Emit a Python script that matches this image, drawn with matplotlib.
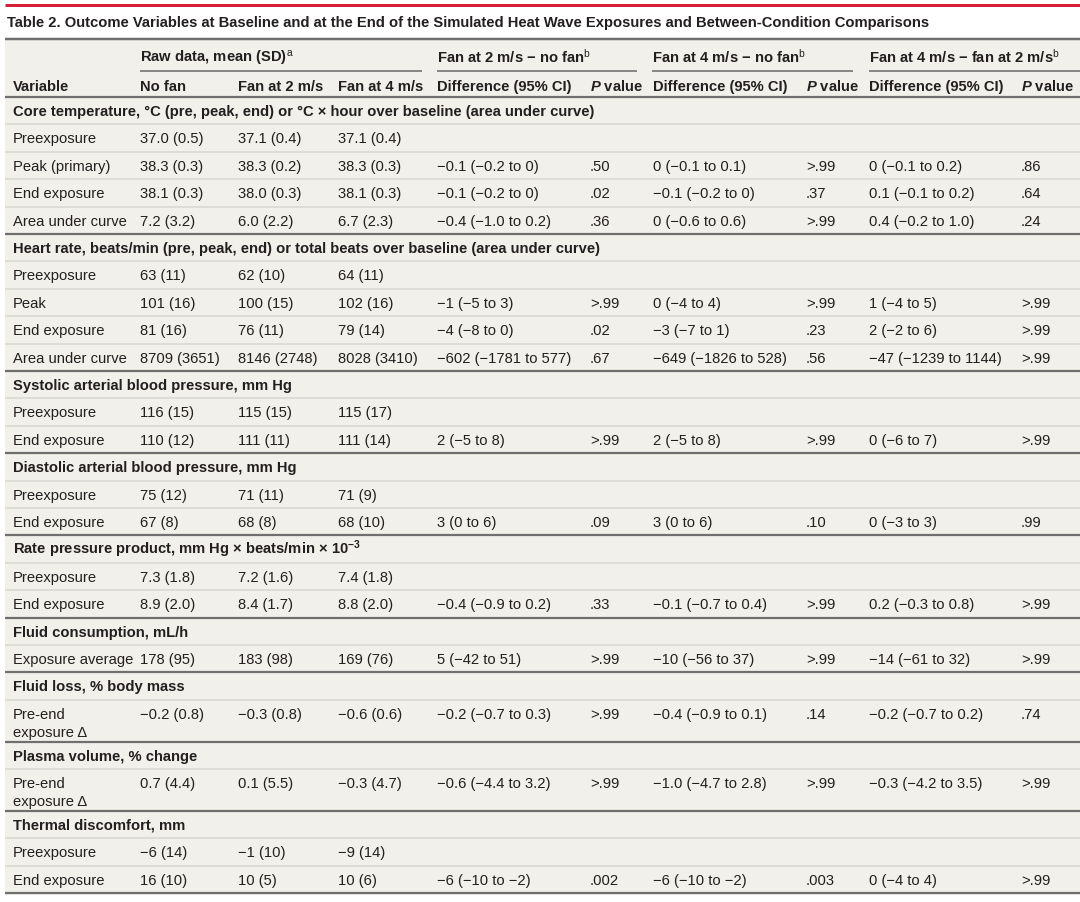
import matplotlib
matplotlib.use('Agg')
import matplotlib.pyplot as plt
from matplotlib.patches import Rectangle

plt.rcParams['font.family'] = ['Liberation Sans', 'DejaVu Sans']
plt.rcParams['mathtext.fontset'] = 'custom'
plt.rcParams['mathtext.rm'] = 'Liberation Sans'
plt.rcParams['mathtext.it'] = 'Liberation Sans:italic:bold'
plt.rcParams['mathtext.bf'] = 'Liberation Sans:bold'

# Данные таблицы
title = ('Table 2. Outcome Variables at Baseline and at the End of the Simulated '
         'Heat Wave Exposures and Between-Condition Comparisons')

group_headers = ['Raw data, mean (SD)$^{\\mathrm{a}}$',
                 'Fan at 2 m/s − no fan$^{\\mathrm{b}}$',
                 'Fan at 4 m/s − no fan$^{\\mathrm{b}}$',
                 'Fan at 4 m/s − fan at 2 m/s$^{\\mathrm{b}}$']
column_headers = ['Variable', 'No fan', 'Fan at 2 m/s', 'Fan at 4 m/s',
                  'Difference (95% CI)', '$\\mathit{P}$ value',
                  'Difference (95% CI)', '$\\mathit{P}$ value',
                  'Difference (95% CI)', '$\\mathit{P}$ value']

section_titles = [
    'Core temperature, °C (pre, peak, end) or °C × hour over baseline (area under curve)',
    'Heart rate, beats/min (pre, peak, end) or total beats over baseline (area under curve)',
    'Systolic arterial blood pressure, mm Hg',
    'Diastolic arterial blood pressure, mm Hg',
    'Rate pressure product, mm Hg × beats/min × 10$^{\\mathregular{-3}}$',
    'Fluid consumption, mL/h',
    'Fluid loss, % body mass',
    'Plasma volume, % change',
    'Thermal discomfort, mm',
]
section_sizes = [4, 4, 2, 2, 2, 1, 1, 1, 2]

row_labels = [
    'Preexposure', 'Peak (primary)', 'End exposure', 'Area under curve',
    'Preexposure', 'Peak', 'End exposure', 'Area under curve',
    'Preexposure', 'End exposure',
    'Preexposure', 'End exposure',
    'Preexposure', 'End exposure',
    'Exposure average',
    'Pre-end\nexposure Δ',
    'Pre-end\nexposure Δ',
    'Preexposure', 'End exposure',
]

no_fan = ['37.0 (0.5)', '38.3 (0.3)', '38.1 (0.3)', '7.2 (3.2)',
          '63 (11)', '101 (16)', '81 (16)', '8709 (3651)',
          '116 (15)', '110 (12)', '75 (12)', '67 (8)',
          '7.3 (1.8)', '8.9 (2.0)', '178 (95)', '−0.2 (0.8)', '0.7 (4.4)',
          '−6 (14)', '16 (10)']
fan_2 = ['37.1 (0.4)', '38.3 (0.2)', '38.0 (0.3)', '6.0 (2.2)',
         '62 (10)', '100 (15)', '76 (11)', '8146 (2748)',
         '115 (15)', '111 (11)', '71 (11)', '68 (8)',
         '7.2 (1.6)', '8.4 (1.7)', '183 (98)', '−0.3 (0.8)', '0.1 (5.5)',
         '−1 (10)', '10 (5)']
fan_4 = ['37.1 (0.4)', '38.3 (0.3)', '38.1 (0.3)', '6.7 (2.3)',
         '64 (11)', '102 (16)', '79 (14)', '8028 (3410)',
         '115 (17)', '111 (14)', '71 (9)', '68 (10)',
         '7.4 (1.8)', '8.8 (2.0)', '169 (76)', '−0.6 (0.6)', '−0.3 (4.7)',
         '−9 (14)', '10 (6)']

diff_2_vs_none = ['', '−0.1 (−0.2 to 0)', '−0.1 (−0.2 to 0)', '−0.4 (−1.0 to 0.2)',
                  '', '−1 (−5 to 3)', '−4 (−8 to 0)', '−602 (−1781 to 577)',
                  '', '2 (−5 to 8)', '', '3 (0 to 6)',
                  '', '−0.4 (−0.9 to 0.2)', '5 (−42 to 51)', '−0.2 (−0.7 to 0.3)',
                  '−0.6 (−4.4 to 3.2)', '', '−6 (−10 to −2)']
p_2_vs_none = ['', '.50', '.02', '.36', '', '>.99', '.02', '.67', '', '>.99',
               '', '.09', '', '.33', '>.99', '>.99', '>.99', '', '.002']
diff_4_vs_none = ['', '0 (−0.1 to 0.1)', '−0.1 (−0.2 to 0)', '0 (−0.6 to 0.6)',
                  '', '0 (−4 to 4)', '−3 (−7 to 1)', '−649 (−1826 to 528)',
                  '', '2 (−5 to 8)', '', '3 (0 to 6)',
                  '', '−0.1 (−0.7 to 0.4)', '−10 (−56 to 37)', '−0.4 (−0.9 to 0.1)',
                  '−1.0 (−4.7 to 2.8)', '', '−6 (−10 to −2)']
p_4_vs_none = ['', '>.99', '.37', '>.99', '', '>.99', '.23', '.56', '', '>.99',
               '', '.10', '', '>.99', '>.99', '.14', '>.99', '', '.003']
diff_4_vs_2 = ['', '0 (−0.1 to 0.2)', '0.1 (−0.1 to 0.2)', '0.4 (−0.2 to 1.0)',
               '', '1 (−4 to 5)', '2 (−2 to 6)', '−47 (−1239 to 1144)',
               '', '0 (−6 to 7)', '', '0 (−3 to 3)',
               '', '0.2 (−0.3 to 0.8)', '−14 (−61 to 32)', '−0.2 (−0.7 to 0.2)',
               '−0.3 (−4.2 to 3.5)', '', '0 (−4 to 4)']
p_4_vs_2 = ['', '.86', '.64', '.24', '', '>.99', '>.99', '>.99', '', '>.99',
            '', '.99', '', '>.99', '>.99', '.74', '>.99', '', '>.99']

# Оформление
TEXT = '#231f20'
DARK = '#6f6f6f'
LIGHT = '#d9d8d1'
BG = '#f1f0ea'
RED = '#d71f35'
FS = 10.6
PX = 0.72  # 1 px в пунктах при dpi=100
BASE = 5.3  # сдвиг базовой линии от центра строки

col_x = [13, 139.5, 238.5, 337.5, 437, 590, 653, 806, 869, 1021]
group_spans = [(139.5, 422), (437, 637), (652, 853), (869, 1080)]
ROW_H = 27.4
LINE2_H = 14.4
LINE_GAP = 18.5


def put(ax, x, y, s, **kw):
    # текст, выровненный по базовой линии
    ax.text(x, y + BASE, s, fontsize=FS, color=TEXT, va='baseline', ha='left', **kw)


def main():
    fig = plt.figure(figsize=(10.8, 9.02), dpi=100)
    ax = fig.add_axes([0, 0, 1, 1])
    ax.set_xlim(0, 1080)
    ax.set_ylim(902, 0)
    ax.axis('off')

    # Красная линия и заголовок
    ax.hlines(4.5, 5, 1080, color=RED, lw=3 * PX)
    ax.text(7, 26.5, title, fontsize=10.65, fontweight='bold', color=TEXT,
            va='baseline', ha='left')

    # Фон таблицы
    ax.add_patch(Rectangle((5, 39), 1075, 856, facecolor=BG, edgecolor='none'))
    ax.hlines(39, 5, 1080, color=DARK, lw=2.5 * PX)

    # Шапка
    for (x0, x1), label in zip(group_spans, group_headers):
        put(ax, x0, 57.5, label, fontweight='bold')
        ax.hlines(71, x0, x1, color=DARK, lw=1.6 * PX)
    for x, label in zip(col_x, column_headers):
        put(ax, x, 85.5, label, fontweight='bold')
    ax.hlines(97, 5, 1080, color=DARK, lw=2.2 * PX)

    columns = [row_labels, no_fan, fan_2, fan_4, diff_2_vs_none, p_2_vs_none,
               diff_4_vs_none, p_4_vs_none, diff_4_vs_2, p_4_vs_2]

    y = 97
    i = 0
    for title_s, n in zip(section_titles, section_sizes):
        put(ax, col_x[0], y + ROW_H / 2, title_s, fontweight='bold')
        y += ROW_H
        ax.hlines(y, 5, 1080, color=LIGHT, lw=1.6 * PX)
        for k in range(n):
            two_lines = '\n' in row_labels[i]
            for x, col in zip(col_x, columns):
                for j, part in enumerate(col[i].split('\n')):
                    put(ax, x, y + ROW_H / 2 + j * LINE_GAP, part)
            y += ROW_H + (LINE2_H if two_lines else 0)
            if k < n - 1:
                ax.hlines(y, 5, 1080, color=LIGHT, lw=1.6 * PX)
            i += 1
        ax.hlines(y, 5, 1080, color=DARK, lw=2.2 * PX)

    fig.savefig('out.png', dpi=100, facecolor='white')


if __name__ == '__main__':
    main()
